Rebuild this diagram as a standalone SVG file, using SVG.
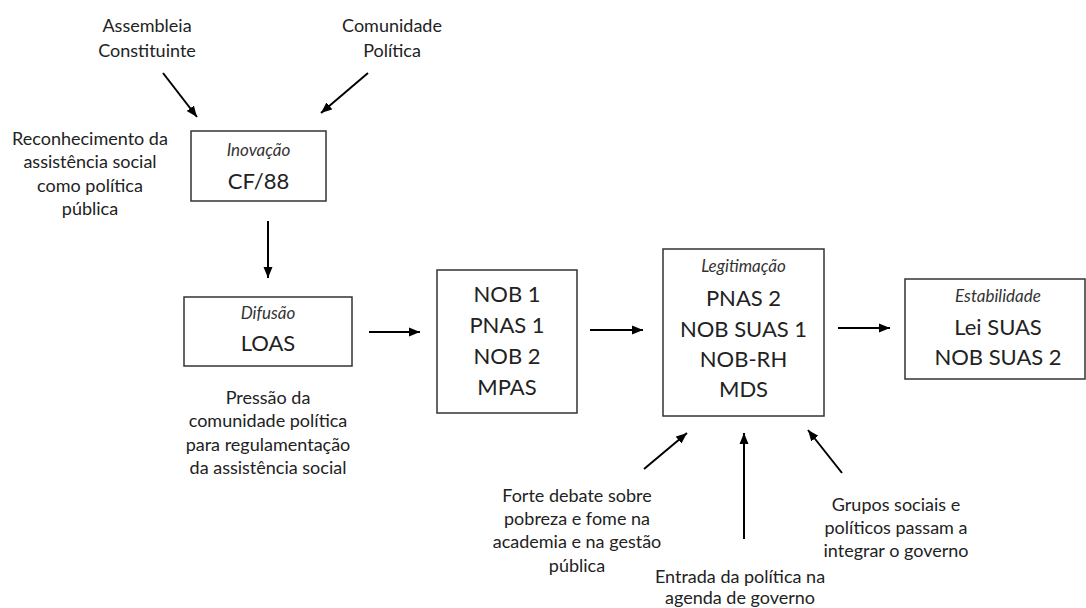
<svg xmlns="http://www.w3.org/2000/svg" width="1086" height="608" viewBox="0 0 1086 608">
<defs>
<marker id="ah" markerUnits="userSpaceOnUse" markerWidth="12" markerHeight="10" refX="11" refY="5" orient="auto">
<path d="M0,0.5 L11,5 L0,9.5 Z" fill="#000"/>
</marker>
<style>
.box{fill:#fff;stroke:#333;stroke-width:1.5}
.t{font-family:Lato,"Open Sans","Liberation Sans",sans-serif;fill:#222;text-anchor:middle}
.lbl{font-size:17px;font-style:italic;fill:#333}
.main{font-size:22px}
.ann{font-size:18px}
.c{stroke:#000;stroke-width:2;fill:none;marker-end:url(#ah)}
</style>
</defs>
<rect width="1086" height="608" fill="#fff"/>

<g id="connectors">
<line class="c" x1="163" y1="73" x2="197" y2="117"/>
<line class="c" x1="368" y1="73" x2="321" y2="113"/>
<line class="c" x1="268" y1="221" x2="268" y2="278"/>
<line class="c" x1="369" y1="332" x2="420" y2="332"/>
<line class="c" x1="590" y1="330" x2="643" y2="330"/>
<line class="c" x1="838" y1="328" x2="890" y2="328"/>
<line class="c" x1="644" y1="469" x2="687" y2="433"/>
<line class="c" x1="744" y1="539" x2="744" y2="433"/>
<line class="c" x1="842" y1="473" x2="808" y2="430"/>
</g>

<g id="assembleia">
<text class="t ann" x="147" y="32">Assembleia</text>
<text class="t ann" x="147" y="57">Constituinte</text>
</g>
<g id="comunidade">
<text class="t ann" x="392" y="32">Comunidade</text>
<text class="t ann" x="392" y="57">Política</text>
</g>
<g id="reconhecimento">
<text class="t ann" x="90" y="145">Reconhecimento da</text>
<text class="t ann" x="90" y="168">assistência social</text>
<text class="t ann" x="90" y="192">como política</text>
<text class="t ann" x="90" y="215">pública</text>
</g>

<g id="inovacao">
<rect class="box" x="191" y="131" width="135" height="70"/>
<text class="t lbl" x="258.5" y="156">Inovação</text>
<text class="t main" x="258.5" y="189">CF/88</text>
</g>

<g id="difusao">
<rect class="box" x="184" y="297" width="168" height="69"/>
<text class="t lbl" x="268" y="319">Difusão</text>
<text class="t main" x="268" y="351">LOAS</text>
</g>
<g id="pressao">
<text class="t ann" x="268" y="404">Pressão da</text>
<text class="t ann" x="268" y="427">comunidade política</text>
<text class="t ann" x="268" y="451">para regulamentação</text>
<text class="t ann" x="268" y="474">da assistência social</text>
</g>

<g id="nob1">
<rect class="box" x="437" y="270" width="140" height="143"/>
<text class="t main" x="507" y="302">NOB 1</text>
<text class="t main" x="507" y="333">PNAS 1</text>
<text class="t main" x="507" y="364">NOB 2</text>
<text class="t main" x="507" y="395">MPAS</text>
</g>

<g id="legitimacao">
<rect class="box" x="663" y="249" width="161" height="167"/>
<text class="t lbl" x="743.5" y="272">Legitimação</text>
<text class="t main" x="743.5" y="306">PNAS 2</text>
<text class="t main" x="743.5" y="337">NOB SUAS 1</text>
<text class="t main" x="743.5" y="367">NOB-RH</text>
<text class="t main" x="743.5" y="397">MDS</text>
</g>

<g id="estabilidade">
<rect class="box" x="905" y="279" width="180" height="100"/>
<text class="t lbl" x="998" y="302">Estabilidade</text>
<text class="t main" x="998" y="335">Lei SUAS</text>
<text class="t main" x="998" y="365">NOB SUAS 2</text>
</g>

<g id="forte">
<text class="t ann" x="577" y="502">Forte debate sobre</text>
<text class="t ann" x="577" y="525">pobreza e fome na</text>
<text class="t ann" x="577" y="548">academia e na gestão</text>
<text class="t ann" x="577" y="572">pública</text>
</g>
<g id="entrada">
<text class="t ann" x="740" y="583">Entrada da política na</text>
<text class="t ann" x="740" y="604">agenda de governo</text>
</g>
<g id="grupos">
<text class="t ann" x="896" y="511">Grupos sociais e</text>
<text class="t ann" x="896" y="534">políticos passam a</text>
<text class="t ann" x="896" y="557">integrar o governo</text>
</g>
</svg>
